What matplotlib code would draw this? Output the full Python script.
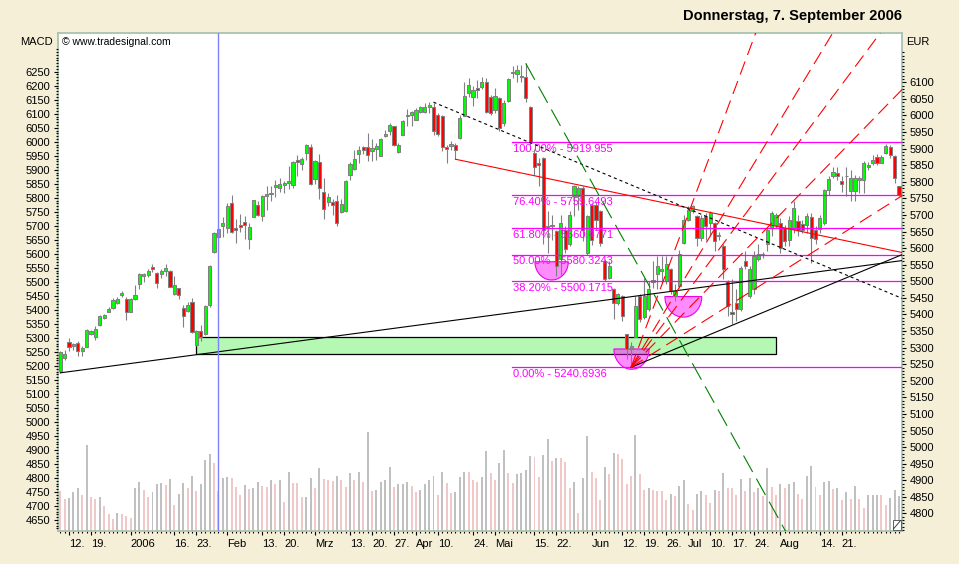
import numpy as np
import pandas as pd
import matplotlib
matplotlib.use("Agg")
import matplotlib.pyplot as plt
from matplotlib.patches import Rectangle, Polygon
from matplotlib.ticker import FixedLocator

plt.rcParams['font.family'] = ['Liberation Sans', 'DejaVu Sans']
plt.rcParams['lines.scale_dashes'] = False

# ---------------------------------------------------------
# DATA (FDAX daily)
# ---------------------------------------------------------
holidays = ["2005-12-26", "2006-04-14", "2006-04-17", "2006-05-01"]
days = pd.bdate_range("2005-12-08", "2006-09-07")
days = days[~days.isin(pd.to_datetime(holidays))]

open_ = [5229, 5269, 5316, 5304, 5314, 5291, 5302, 5341, 5332, 5368,
         5388, 5408, 5419, 5434, 5459, 5447, 5408, 5448, 5491, 5516,
         5519, 5542, 5526, 5521, 5530, 5530, 5462, 5479, 5419, 5409,
         5439, 5309, 5351, 5341, 5429, 5587, 5635, 5667, 5662, 5737,
         5662, 5670, 5680, 5627, 5695, 5730, 5697, 5757, 5762, 5784,
         5782, 5791, 5797, 5790, 5867, 5855, 5887, 5905, 5807, 5860,
         5770, 5740, 5740, 5742, 5709, 5712, 5819, 5840, 5885, 5905,
         5905, 5894, 5899, 5879, 5939, 5952, 5967, 5889, 5942, 6000,
         6000, 5987, 6009, 6009, 6027, 6027, 6000, 5999, 5905, 5907,
         5912, 5932, 5999, 6067, 6057, 6082, 6085, 6100, 6057, 6017,
         6052, 5977, 6045, 6127, 6125, 6120, 6117, 6027, 5886, 5858,
         5871, 5664, 5671, 5651, 5566, 5656, 5611, 5756, 5756, 5781,
         5586, 5731, 5731, 5711, 5561, 5511, 5478, 5436, 5456, 5341,
         5298, 5331, 5456, 5391, 5416, 5499, 5521, 5531, 5501, 5538,
         5456, 5486, 5616, 5686, 5711, 5696, 5631, 5696, 5676, 5676,
         5638, 5606, 5501, 5406, 5436, 5416, 5561, 5456, 5476, 5566,
         5578, 5611, 5660, 5671, 5676, 5661, 5626, 5658, 5681, 5674,
         5671, 5694, 5656, 5658, 5676, 5774, 5816, 5826, 5803, 5816,
         5771, 5771, 5806, 5806, 5846, 5856, 5876, 5858, 5886, 5904,
         5879, 5786]
high = [5289, 5294, 5329, 5314, 5321, 5304, 5356, 5354, 5364, 5399,
        5401, 5422, 5449, 5454, 5472, 5454, 5450, 5489, 5524, 5526,
        5538, 5552, 5529, 5536, 5552, 5534, 5516, 5481, 5429, 5439,
        5449, 5354, 5369, 5429, 5549, 5650, 5662, 5695, 5735, 5759,
        5687, 5702, 5697, 5675, 5745, 5742, 5759, 5787, 5787, 5805,
        5812, 5802, 5849, 5862, 5882, 5874, 5914, 5915, 5867, 5885,
        5810, 5767, 5747, 5760, 5749, 5804, 5859, 5897, 5909, 5909,
        5947, 5929, 5917, 5932, 5957, 5977, 5969, 5917, 5985, 6019,
        6012, 6021, 6029, 6037, 6042, 6039, 6007, 6002, 5912, 5922,
        5917, 6002, 6102, 6112, 6089, 6107, 6117, 6112, 6062, 6082,
        6057, 6047, 6112, 6148, 6152, 6152, 6157, 6029, 5900, 5871,
        5875, 5713, 5701, 5656, 5701, 5666, 5711, 5791, 5786, 5786,
        5700, 5736, 5740, 5716, 5566, 5561, 5481, 5466, 5459, 5341,
        5316, 5456, 5463, 5511, 5501, 5561, 5576, 5576, 5576, 5541,
        5491, 5594, 5701, 5726, 5731, 5701, 5701, 5706, 5711, 5678,
        5650, 5611, 5503, 5506, 5476, 5546, 5591, 5546, 5591, 5611,
        5588, 5661, 5711, 5706, 5691, 5671, 5698, 5741, 5701, 5686,
        5706, 5706, 5666, 5701, 5778, 5816, 5846, 5846, 5816, 5846,
        5836, 5821, 5816, 5864, 5861, 5881, 5884, 5881, 5914, 5911,
        5881, 5788]
low = [5224, 5264, 5289, 5294, 5274, 5276, 5301, 5338, 5322, 5366,
       5386, 5406, 5416, 5432, 5452, 5382, 5406, 5444, 5476, 5499,
       5514, 5529, 5479, 5511, 5516, 5482, 5459, 5446, 5362, 5406,
       5344, 5304, 5319, 5339, 5422, 5584, 5632, 5635, 5645, 5645,
       5614, 5649, 5627, 5597, 5694, 5697, 5682, 5715, 5742, 5755,
       5769, 5767, 5777, 5782, 5817, 5837, 5867, 5789, 5794, 5749,
       5689, 5727, 5700, 5667, 5707, 5710, 5805, 5837, 5857, 5885,
       5862, 5862, 5867, 5877, 5935, 5942, 5909, 5887, 5941, 5967,
       5967, 5985, 6007, 6007, 6007, 5942, 5939, 5892, 5857, 5897,
       5869, 5930, 5997, 6057, 6029, 6052, 6079, 6007, 6002, 6007,
       5952, 5967, 6042, 6114, 6102, 6102, 6042, 5912, 5820, 5786,
       5611, 5586, 5626, 5516, 5516, 5586, 5606, 5696, 5716, 5621,
       5580, 5610, 5656, 5606, 5500, 5506, 5386, 5430, 5381, 5266,
       5241, 5331, 5376, 5386, 5411, 5481, 5476, 5496, 5491, 5461,
       5441, 5481, 5611, 5681, 5706, 5606, 5621, 5626, 5636, 5591,
       5625, 5506, 5396, 5371, 5381, 5411, 5536, 5451, 5461, 5561,
       5571, 5591, 5636, 5661, 5586, 5606, 5606, 5646, 5636, 5646,
       5646, 5556, 5611, 5646, 5671, 5761, 5811, 5806, 5768, 5756,
       5741, 5741, 5766, 5766, 5836, 5851, 5851, 5856, 5884, 5871,
       5796, 5756]
close = [5286, 5281, 5302, 5311, 5289, 5298, 5354, 5351, 5356, 5396,
         5399, 5416, 5444, 5446, 5464, 5406, 5448, 5459, 5521, 5521,
         5532, 5536, 5494, 5531, 5539, 5484, 5489, 5458, 5396, 5429,
         5346, 5349, 5332, 5426, 5546, 5647, 5659, 5675, 5727, 5650,
         5655, 5664, 5670, 5665, 5744, 5700, 5757, 5762, 5765, 5789,
         5794, 5795, 5802, 5860, 5859, 5870, 5912, 5792, 5864, 5782,
         5719, 5753, 5730, 5675, 5732, 5802, 5855, 5869, 5897, 5897,
         5882, 5902, 5909, 5929, 5945, 5972, 5912, 5912, 5982, 5997,
         6010, 6017, 6025, 6027, 6032, 5952, 5944, 5905, 5899, 5915,
         5897, 5992, 6059, 6092, 6077, 6077, 6102, 6009, 6007, 6059,
         5962, 6039, 6109, 6132, 6137, 6117, 6052, 5920, 5845, 5852,
         5656, 5668, 5666, 5546, 5676, 5596, 5701, 5786, 5781, 5656,
         5696, 5626, 5686, 5616, 5506, 5546, 5436, 5461, 5396, 5296,
         5306, 5426, 5386, 5456, 5476, 5504, 5546, 5536, 5551, 5471,
         5471, 5581, 5686, 5716, 5728, 5631, 5691, 5666, 5706, 5621,
         5641, 5536, 5426, 5401, 5416, 5541, 5546, 5538, 5576, 5583,
         5581, 5656, 5706, 5701, 5601, 5621, 5686, 5721, 5656, 5656,
         5698, 5631, 5628, 5691, 5776, 5808, 5831, 5816, 5794, 5818,
         5811, 5811, 5811, 5856, 5850, 5866, 5856, 5876, 5908, 5881,
         5811, 5761]
volume = [40, 32, 33, 39, 43, 36, 86, 34, 32, 34,
          25, 17, 12, 18, 17, 15, 13, 43, 49, 41,
          34, 39, 47, 48, 46, 52, 26, 37, 48, 43,
          55, 40, 47, 71, 77, 68, 40, 53, 54, 53,
          44, 36, 46, 42, 43, 49, 45, 44, 51, 47,
          51, 29, 59, 48, 48, 34, 34, 53, 43, 63,
          52, 51, 50, 55, 51, 44, 58, 51, 59, 49,
          99, 40, 41, 49, 51, 64, 44, 47, 47, 49,
          45, 39, 41, 47, 51, 55, 36, 59, 48, 38,
          39, 54, 59, 59, 51, 49, 54, 80, 58, 51,
          68, 81, 58, 48, 57, 58, 61, 75, 74, 54,
          76, 92, 70, 73, 73, 69, 43, 49, 18, 53,
          95, 59, 53, 31, 64, 57, 78, 77, 72, 47,
          55, 96, 57, 41, 43, 41, 40, 40, 31, 37,
          35, 45, 51, 27, 21, 37, 40, 36, 28, 41,
          40, 58, 43, 43, 36, 52, 40, 53, 39, 43,
          35, 63, 44, 36, 47, 43, 47, 49, 37, 32,
          55, 65, 44, 36, 49, 50, 42, 43, 31, 39,
          32, 45, 32, 23, 36, 36, 36, 36, 26, 33,
          41, 35]
vol_colors = ("ppgggpgppg" "pppgpppggp" "pgggpgpggp" "gpgggppggp" "ppgpggppgp"
              "gpgpppggpg" "pppgppgpgp" "gpggggpggg" "ppggggpgpp" "gggpppggpp"
              "ggppggggpp" "ggpgpppgpg" "gpppgpgppp" "pgppgppppg" "pggppggppg"
              "pgpppgpgpg" "pgppgpggpp" "ggppggpgpg" "pgppgggppg" "gg")

date_labels = {
    "2005-12-12": "12.", "2005-12-19": "19.", "2006-01-02": "2006",
    "2006-01-16": "16.", "2006-01-23": "23.", "2006-02-01": "Feb",
    "2006-02-13": "13.", "2006-02-20": "20.", "2006-03-01": "Mrz",
    "2006-03-13": "13.", "2006-03-20": "20.", "2006-03-27": "27.",
    "2006-04-03": "Apr", "2006-04-10": "10.", "2006-04-24": "24.",
    "2006-05-02": "Mai", "2006-05-15": "15.", "2006-05-22": "22.",
    "2006-06-01": "Jun", "2006-06-12": "12.", "2006-06-19": "19.",
    "2006-06-26": "26.", "2006-07-03": "Jul", "2006-07-10": "10.",
    "2006-07-17": "17.", "2006-07-24": "24.", "2006-08-01": "Aug",
    "2006-08-14": "14.", "2006-08-21": "21.",
}

# drawing tools (bar index, price)
fib_pct = [100.0, 76.4, 61.8, 50.0, 38.2, 0.0]
fib_high = 5919.955
fib_low = 5240.6936
fib_start = 102.8
support_long = [(0, 5224), (192, 5563)]
support_june = [(130, 5240.69), (192, 5582)]
down_dotted = [(85, 6040), (192, 5447)]
down_red = [(90, 5868), (192, 5586)]
green_dash = [(106, 6157), (166, 4727)]
fan_low = (130, 5240.69)
fan_ref = (144, 5738)
fan_ratios = [1.0, 0.618, 0.5, 0.382, 0.236]
zone = (31, 163, 5282, 5331)          # i0, i1, p0, p1
bowls = [(111.9, 5559, 3.8, 55), (141.9, 5454, 4.2, 62), (130.1, 5296, 4.0, 61)]
marker_day = 36

# ---------------------------------------------------------
# FIGURE
# ---------------------------------------------------------
BG = '#F5EFD7'
W, H = 959, 564
fig = plt.figure(figsize=(W / 100, H / 100), dpi=100, facecolor=BG)
ax_vol = fig.add_axes([58 / W, 1 - 531 / H, 844 / W, 498 / H])
ax_vol.set_facecolor('white')

x = np.arange(len(days))
vcols = ['#C0C0C0' if c == 'g' else '#F0C8C8' for c in vol_colors]
ax_vol.bar(x, volume, width=0.45, color=vcols, linewidth=0)
ax_vol.set_ylim(0, 498)
ax_vol.set_xlim(-0.52, 191.7)
ax_vol.yaxis.set_visible(False)
for s in ax_vol.spines.values():
    s.set_color('#A9C3AE')
    s.set_linewidth(1.3)

# x ticks
lab_idx = [i for i, d in enumerate(days) if d.strftime('%Y-%m-%d') in date_labels]
ax_vol.set_xticks(lab_idx)
ax_vol.set_xticklabels([date_labels[days[i].strftime('%Y-%m-%d')] for i in lab_idx],
                       ha='left', fontsize=8)
ax_vol.xaxis.set_minor_locator(FixedLocator(x))
ax_vol.tick_params(axis='x', which='major', length=3, width=0.8, pad=3, color='black')
ax_vol.tick_params(axis='x', which='minor', length=1.5, width=0.8, color='black')

# price axis (right)
ax = ax_vol.twinx()
P_LIM = (4747.2, 6248.6)
ax.set_ylim(*P_LIM)
ax.set_xlim(-0.52, 191.7)
for s in ax.spines.values():
    s.set_visible(False)
ax.yaxis.set_major_locator(FixedLocator(np.arange(4800, 6101, 50)))
ax.yaxis.set_minor_locator(FixedLocator(np.arange(4750, 6195, 10)))
ax.tick_params(axis='y', which='major', length=3, width=0.8, pad=2.5, labelsize=8)
ax.tick_params(axis='y', which='minor', length=1.5, width=0.8)

# left scale
L_LIM = (4611, 6388)
k = (L_LIM[1] - L_LIM[0]) / (P_LIM[1] - P_LIM[0])


def to_left(p):
    return L_LIM[0] + (np.asarray(p) - P_LIM[0]) * k


def to_price(v):
    return P_LIM[0] + (np.asarray(v) - L_LIM[0]) / k


sec = ax.secondary_yaxis('left', functions=(to_left, to_price))
sec.spines['left'].set_visible(False)
sec.yaxis.set_major_locator(FixedLocator(np.arange(4650, 6251, 50)))
sec.yaxis.set_minor_locator(FixedLocator(np.arange(4620, 6335, 10)))
sec.tick_params(which='major', length=3, width=0.8, pad=2.5, labelsize=8)
sec.tick_params(which='minor', length=1.5, width=0.8)

# support zone
i0, i1, p0, p1 = zone
ax.add_patch(Rectangle((i0, p0), i1 - i0, p1 - p0, facecolor='#B4F8B4',
                       edgecolor='black', linewidth=0.9, zorder=2))

# bowls
theta = np.linspace(np.pi, 2 * np.pi, 60)
for cx, cy, rx, ry in bowls:
    pts = np.column_stack([cx + rx * np.cos(theta), cy + ry * np.sin(theta)])
    ax.add_patch(Polygon(pts, closed=True, facecolor=(1, 0, 1, 0.45),
                         edgecolor=(0.93, 0, 0.93, 1), linewidth=0.8, zorder=3))

# candles
o = np.array(open_, float)
h = np.array(high, float)
l = np.array(low, float)
c = np.array(close, float)
up = c >= o
ax.vlines(x, l, h, color='#808080', linewidth=0.8, zorder=4)
ax.bar(x, np.maximum(np.abs(c - o), 2.5), bottom=np.minimum(o, c), width=0.72,
       color=np.where(up, '#00FF00', '#FF0000'), edgecolor='#808080',
       linewidth=0.75, zorder=5)

# fibonacci retracement
for pct in fib_pct:
    lvl = fib_low + pct / 100 * (fib_high - fib_low)
    ax.plot([fib_start, 191.7], [lvl, lvl], color='#FF00FF', lw=0.9, zorder=6)
    val = ('%.4f' % lvl).rstrip('0')
    ax.annotate(f"{pct:.2f}% - {val}", (fib_start, lvl), xytext=(0.8, -1.2),
                textcoords='offset points', va='top', ha='left',
                color='#FF00FF', fontsize=8, zorder=6)

# trend lines
for seg in (support_long, support_june):
    ax.plot(*zip(*seg), color='black', lw=0.8, zorder=6)
ax.plot(*zip(*down_red), color='#FF0000', lw=0.8, zorder=6)
ax.plot(*zip(*down_dotted), color='black', lw=0.8, dashes=(2.2, 2.2), zorder=6)
ax.plot(*zip(*green_dash), color='#008000', lw=0.8, dashes=(13.5, 5.5), zorder=6)

# fibonacci fan
base = (fan_ref[1] - fan_low[1]) / (fan_ref[0] - fan_low[0])
for r in fan_ratios:
    xe = 200
    ax.plot([fan_low[0], xe], [fan_low[1], fan_low[1] + r * base * (xe - fan_low[0])],
            color='#FF0000', lw=0.8, dashes=(10, 5), zorder=6)

ax.axvline(marker_day, color='#8080FF', lw=1.0, zorder=7)

# corner icon
ax_vol.add_patch(Rectangle((0.9893, 0.003), 0.0095, 0.019, transform=ax_vol.transAxes,
                           facecolor='white', edgecolor='#606060', lw=0.7, zorder=8))
ax_vol.plot([0.9898, 0.9983], [0.004, 0.021], transform=ax_vol.transAxes,
            color='#404040', lw=0.7, zorder=9)

# header texts
fig.text(902 / W, 1 - 16 / H, "Donnerstag, 7. September 2006", ha='right', va='center',
         fontsize=10.5, fontweight='bold')
fig.text(53 / W, 1 - 42 / H, "MACD", ha='right', va='center', fontsize=8)
fig.text(906 / W, 1 - 42 / H, "EUR", ha='left', va='center', fontsize=8)
fig.text(62 / W, 1 - 42 / H, "© www.tradesignal.com", ha='left', va='center', fontsize=7.5)

fig.savefig("out.png", dpi=100, facecolor=BG)
